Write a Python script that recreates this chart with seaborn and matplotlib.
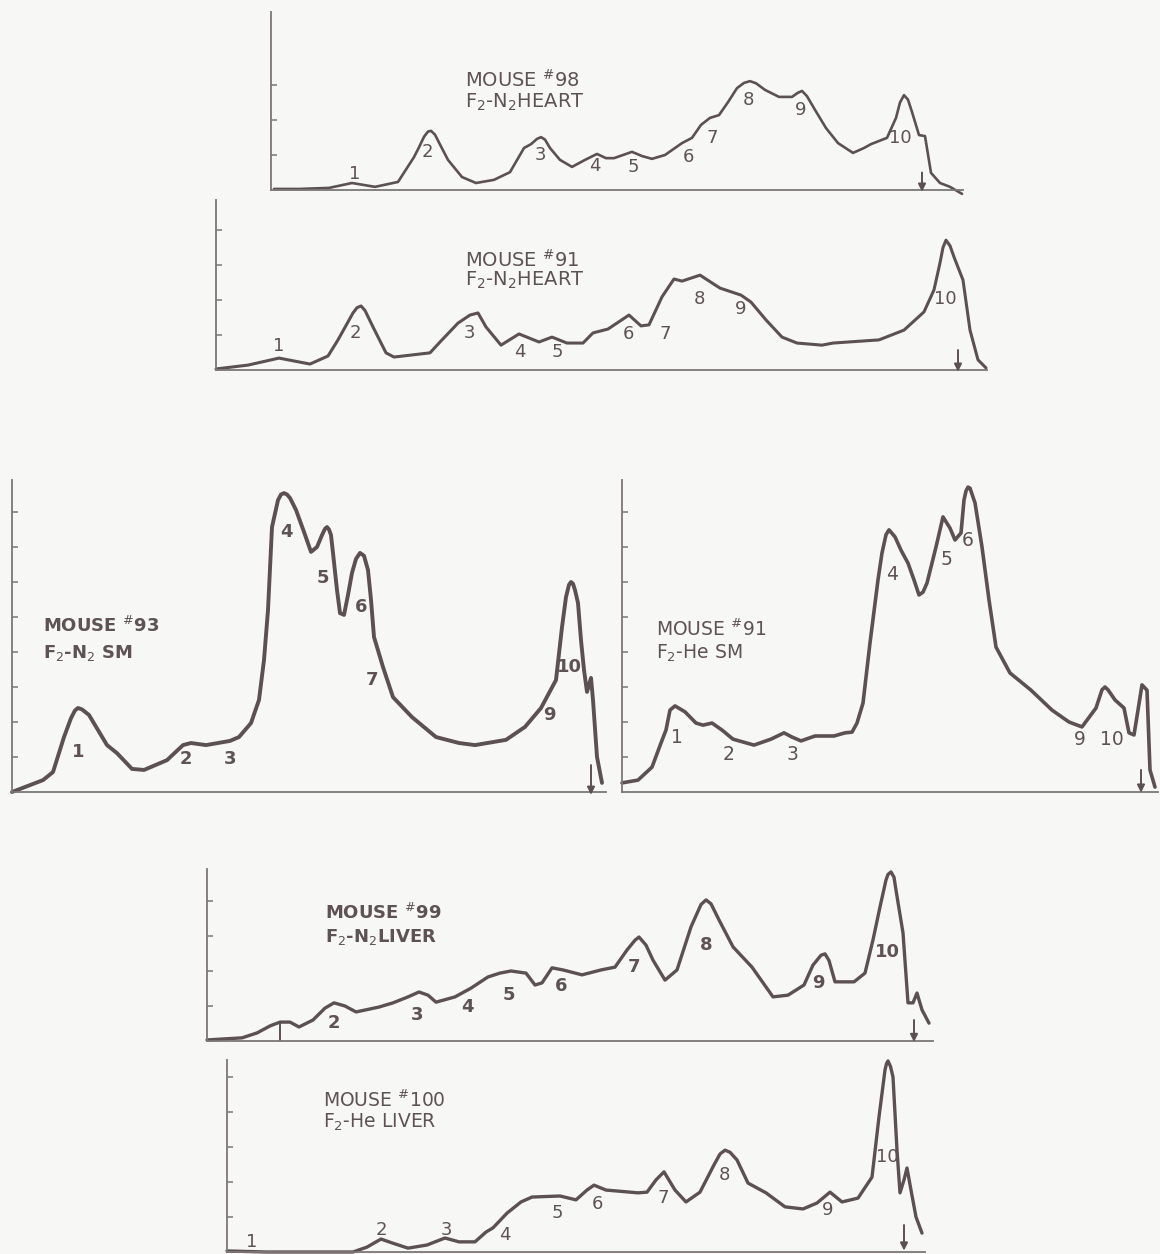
import matplotlib
matplotlib.use("Agg")
import matplotlib.pyplot as plt
import seaborn as sns
import pandas as pd

# ---- densitometer traces: migration distance (x) vs optical density (y) ----
# Mouse #98, F2-N2 heart
m98_x = [0.3, 2.9, 5.8, 8.1, 10.4, 12.7, 14.3, 14.8, 15.3, 15.7, 16.0, 16.4, 16.9, 17.7, 19.1,
         20.5, 22.3, 23.9, 25.3, 26.0, 26.6, 27.0, 27.4, 27.9, 28.9, 30.1, 31.4, 32.6, 33.5,
         34.3, 36.1, 37.1, 38.1, 39.4, 41.1, 42.1, 43.0, 43.9, 44.8, 45.7, 46.6, 47.3, 47.9,
         48.5, 49.4, 50.8, 52.1, 52.7, 53.1, 53.6, 54.4, 55.5, 56.7, 58.2, 59.3, 60.0, 61.6,
         62.5, 62.9, 63.3, 63.7, 64.1, 64.8, 65.4, 66.0, 66.9, 67.9, 69.1]
m98_y = [0.03, 0.03, 0.06, 0.20, 0.09, 0.23, 0.94, 1.22, 1.52, 1.67, 1.69, 1.58, 1.30, 0.86, 0.37,
         0.20, 0.29, 0.51, 1.20, 1.31, 1.46, 1.51, 1.44, 1.20, 0.86, 0.66, 0.86, 1.03, 0.91,
         0.91, 1.09, 0.97, 0.89, 1.00, 1.34, 1.49, 1.86, 2.06, 2.14, 2.51, 2.91, 3.06, 3.11,
         3.05, 2.86, 2.66, 2.66, 2.78, 2.83, 2.68, 2.29, 1.77, 1.34, 1.06, 1.20, 1.31, 1.49,
         2.06, 2.50, 2.71, 2.58, 2.23, 1.57, 1.54, 0.49, 0.20, 0.09, -0.11]

# Mouse #91, F2-N2 heart
m91h_x = [0.0, 3.2, 6.3, 9.4, 11.2, 12.2, 13.7, 14.1, 14.5, 14.9, 15.7, 17.0, 17.8, 21.4, 22.4,
          24.2, 25.4, 26.2, 27.0, 28.5, 30.3, 32.3, 33.6, 35.1, 36.7, 37.7, 39.2, 41.3, 42.5,
          43.3, 44.6, 45.8, 46.6, 48.4, 50.4, 52.5, 53.5, 55.0, 56.6, 58.1, 60.6, 61.7, 66.3,
          68.8, 70.8, 71.8, 72.4, 72.7, 73.0, 73.4, 73.8, 74.7, 75.4, 76.2, 77.0]
m91h_y = [0.03, 0.14, 0.34, 0.17, 0.40, 0.86, 1.63, 1.78, 1.83, 1.70, 1.23, 0.49, 0.37, 0.49, 0.80,
          1.34, 1.57, 1.63, 1.23, 0.71, 1.03, 0.80, 0.94, 0.77, 0.77, 1.06, 1.17, 1.57, 1.26,
          1.29, 2.09, 2.60, 2.54, 2.71, 2.34, 2.14, 1.94, 1.43, 0.94, 0.77, 0.71, 0.77, 0.86,
          1.14, 1.66, 2.29, 3.06, 3.50, 3.71, 3.55, 3.23, 2.57, 1.14, 0.29, 0.06]

# Mouse #93, F2-N2 skeletal muscle
m93_x = [0.0, 3.1, 4.1, 5.2, 5.9, 6.3, 6.6, 7.0, 7.7, 9.5, 10.5, 12.0, 13.2, 15.5, 17.1, 17.9,
         19.4, 21.8, 22.7, 23.9, 24.7, 25.2, 25.6, 26.0, 26.6, 26.9, 27.2, 27.5, 27.8, 28.4,
         29.2, 29.9, 30.5, 31.0, 31.3, 31.5, 31.7, 31.9, 32.1, 32.5, 32.8, 33.2, 33.6, 34.0,
         34.4, 34.8, 35.2, 35.6, 35.9, 36.2, 37.1, 38.1, 40.0, 42.4, 44.7, 46.3, 49.4, 51.3,
         52.9, 54.4, 55.0, 55.4, 55.7, 55.9, 56.1, 56.3, 56.6, 56.9, 57.2, 57.5, 57.9, 58.1,
         58.5, 59.0]
m93_y = [0.00, 0.34, 0.57, 1.57, 2.11, 2.33, 2.40, 2.36, 2.20, 1.34, 1.11, 0.66, 0.63, 0.91, 1.34,
         1.40, 1.34, 1.46, 1.57, 1.97, 2.63, 3.77, 5.20, 7.57, 8.34, 8.50, 8.54, 8.50, 8.40,
         8.06, 7.43, 6.86, 7.00, 7.34, 7.52, 7.57, 7.50, 7.34, 6.83, 5.77, 5.11, 5.06, 5.63,
         6.26, 6.66, 6.83, 6.75, 6.34, 5.49, 4.43, 3.57, 2.71, 2.14, 1.57, 1.40, 1.34, 1.49,
         1.86, 2.40, 3.20, 4.71, 5.57, 5.92, 6.00, 5.95, 5.77, 5.40, 4.34, 3.49, 2.86, 3.26,
         2.63, 1.00, 0.26]

# Mouse #91, F2-He skeletal muscle
m91s_x = [0.0, 1.6, 3.0, 3.9, 4.4, 4.8, 5.3, 6.3, 7.4, 8.1, 9.0, 10.0, 11.1, 13.2, 14.9, 16.2,
          17.0, 17.9, 19.3, 21.2, 22.3, 23.0, 23.5, 24.1, 24.8, 25.6, 26.0, 26.4, 26.7, 27.3,
          27.9, 28.6, 29.2, 29.7, 30.1, 30.5, 31.4, 32.1, 32.8, 33.3, 33.9, 34.2, 34.4, 34.6,
          34.8, 35.3, 36.0, 36.7, 37.4, 38.8, 40.9, 43.0, 44.7, 46.0, 47.4, 48.0, 48.3, 48.6,
          49.3, 50.2, 50.7, 51.2, 51.6, 52.0, 52.5, 52.8, 53.3]
m91s_y = [0.26, 0.34, 0.71, 1.40, 1.77, 2.34, 2.46, 2.29, 1.97, 1.91, 1.97, 1.77, 1.51, 1.34, 1.51,
          1.69, 1.57, 1.46, 1.60, 1.60, 1.69, 1.71, 1.97, 2.54, 4.26, 6.06, 6.83, 7.35, 7.49,
          7.29, 6.91, 6.54, 6.06, 5.63, 5.71, 5.97, 7.00, 7.86, 7.54, 7.20, 7.40, 8.34, 8.60,
          8.71, 8.68, 8.26, 7.00, 5.49, 4.14, 3.40, 2.91, 2.34, 2.00, 1.86, 2.40, 2.92, 3.00,
          2.92, 2.63, 2.40, 1.69, 1.63, 2.34, 3.06, 2.91, 0.63, 0.14]

# Mouse #99, F2-N2 liver
m99_x = [0.0, 3.5, 5.0, 6.3, 7.3, 8.3, 9.2, 10.6, 11.8, 12.7, 13.8, 14.9, 17.2, 18.6, 20.1, 21.2,
         22.1, 22.9, 24.8, 26.4, 28.1, 29.3, 30.4, 31.9, 32.8, 33.5, 34.5, 35.6, 37.5, 39.4,
         40.8, 42.0, 42.8, 43.2, 43.9, 44.6, 45.8, 47.0, 48.4, 49.4, 49.9, 50.4, 51.2, 52.6,
         54.5, 56.6, 58.1, 59.7, 60.6, 61.4, 61.8, 62.2, 62.8, 64.7, 65.8, 66.6, 67.3, 67.9,
         68.1, 68.4, 68.7, 68.9, 69.6, 70.1, 70.6, 71.0, 71.5, 72.2]
m99_y = [0.03, 0.09, 0.23, 0.43, 0.54, 0.54, 0.40, 0.60, 0.94, 1.09, 1.00, 0.83, 0.97, 1.09, 1.26,
         1.40, 1.31, 1.11, 1.26, 1.51, 1.83, 1.94, 2.00, 1.94, 1.60, 1.66, 2.09, 2.03, 1.89,
         2.03, 2.11, 2.60, 2.88, 2.97, 2.74, 2.31, 1.74, 2.03, 3.26, 3.90, 4.03, 3.92, 3.46,
         2.69, 2.11, 1.26, 1.31, 1.60, 2.17, 2.45, 2.49, 2.30, 1.69, 1.69, 1.94, 2.89, 3.83,
         4.60, 4.76, 4.83, 4.68, 4.31, 3.09, 1.09, 1.09, 1.37, 0.89, 0.51]

# Mouse #100, F2-He liver
m100_x = [0.0, 3.9, 12.6, 14.0, 15.4, 16.5, 18.1, 20.0, 21.8, 23.2, 24.8, 25.9, 26.6, 28.0, 29.4,
          30.5, 33.3, 34.9, 36.0, 36.7, 37.9, 41.1, 42.0, 42.9, 43.7, 44.8, 45.9, 47.3, 48.7,
          49.3, 49.8, 50.3, 51.0, 52.1, 53.9, 55.8, 57.6, 59.0, 60.3, 61.5, 63.1, 64.5, 65.2,
          65.8, 65.95, 66.1, 66.35, 66.6, 67.0, 67.3, 67.7, 68.0, 68.4, 68.9, 69.5]
m100_y = [0.03, 0.00, 0.00, 0.14, 0.37, 0.26, 0.11, 0.20, 0.40, 0.29, 0.29, 0.57, 0.69, 1.11, 1.43,
          1.57, 1.60, 1.49, 1.77, 1.91, 1.77, 1.69, 1.71, 2.06, 2.29, 1.77, 1.43, 1.71, 2.49,
          2.80, 2.91, 2.85, 2.63, 1.97, 1.69, 1.29, 1.23, 1.40, 1.71, 1.43, 1.54, 2.14, 3.86,
          5.20, 5.38, 5.46, 5.30, 5.00, 2.91, 1.69, 2.06, 2.40, 1.77, 1.00, 0.54]

# ---- band numbers written along each trace ----
m98_bands = ["1", "2", "3", "4", "5", "6", "7", "8", "9", "10"]
m98_band_x = [8.4, 15.6, 26.9, 32.4, 36.2, 41.7, 44.1, 47.7, 53.0, 62.9]
m98_band_y = [0.46, 1.09, 1.00, 0.69, 0.66, 0.94, 1.49, 2.57, 2.29, 1.49]

m91h_bands = ["1", "2", "3", "4", "5", "6", "7", "8", "9", "10"]
m91h_band_x = [6.3, 13.9, 25.3, 30.4, 34.1, 41.2, 44.9, 48.3, 52.5, 72.9]
m91h_band_y = [0.69, 1.06, 1.06, 0.51, 0.51, 1.03, 1.03, 2.03, 1.74, 2.03]

m93_bands = ["1", "2", "3", "4", "5", "6", "7", "9", "10"]
m93_band_x = [6.6, 17.4, 21.8, 27.4, 31.1, 34.9, 36.0, 53.7, 55.7]
m93_band_y = [1.14, 0.94, 0.94, 7.43, 6.11, 5.29, 3.20, 2.20, 3.57]

m91s_bands = ["1", "2", "3", "4", "5", "6", "9", "10"]
m91s_band_x = [5.5, 10.7, 17.0, 27.0, 32.4, 34.6, 45.8, 49.0]
m91s_band_y = [1.57, 1.06, 1.06, 6.20, 6.63, 7.20, 1.49, 1.49]

m99_bands = ["2", "3", "4", "5", "6", "7", "8", "9", "10"]
m99_band_x = [12.7, 21.0, 26.0, 30.2, 35.4, 42.7, 49.9, 61.1, 68.0]
m99_band_y = [0.51, 0.74, 0.97, 1.31, 1.57, 2.11, 2.74, 1.66, 2.54]

m100_bands = ["1", "2", "3", "4", "5", "6", "7", "8", "9", "10"]
m100_band_x = [2.5, 15.4, 21.9, 27.8, 33.0, 37.0, 43.6, 49.7, 60.1, 66.0]
m100_band_y = [0.29, 0.63, 0.63, 0.49, 1.11, 1.37, 1.54, 2.20, 1.20, 2.71]

# ---- titles, origin arrows and y ticks ----
titles = [
    ("MOUSE $^{\\#}$98", "F$_2$-N$_2$HEART"),
    ("MOUSE $^{\\#}$91", "F$_2$-N$_2$HEART"),
    ("MOUSE $^{\\#}$93", "F$_2$-N$_2$ SM"),
    ("MOUSE $^{\\#}$91", "F$_2$-He SM"),
    ("MOUSE $^{\\#}$99", "F$_2$-N$_2$LIVER"),
    ("MOUSE $^{\\#}$100", "F$_2$-He LIVER"),
]
arrow_x = [65.1, 74.2, 57.9, 51.9, 70.7, 67.7]

INK = "#5c5053"
TEXT = "#5e5255"
AXIS = "#7c7678"
BG = "#f7f7f6"

sns.set_theme(style="white", rc={"figure.facecolor": BG, "axes.facecolor": "none"})
plt.rcParams["font.family"] = ["DejaVu Sans"]
plt.rcParams["mathtext.fontset"] = "dejavusans"

W, H = 1160, 1254
fig = plt.figure(figsize=(W / 100, H / 100), dpi=100)

# panel frames in figure pixels: left, top, right, bottom
panels = [
    dict(box=(271, 12, 963, 190), x=m98_x, y=m98_y, bands=m98_bands, bx=m98_band_x, by=m98_band_y,
         title_pos=(19.4, 3.14, 2.49), nt=3, lw=1.9, bold=False, fs=14, bfs=13, arrow=(0.5, -0.05)),
    dict(box=(216, 200, 987, 370), x=m91h_x, y=m91h_y, bands=m91h_bands, bx=m91h_band_x, by=m91h_band_y,
         title_pos=(24.9, 3.14, 2.57), nt=4, lw=2.2, bold=False, fs=14, bfs=13, arrow=(0.57, -0.05)),
    dict(box=(12, 480, 606, 792), x=m93_x, y=m93_y, bands=m93_bands, bx=m93_band_x, by=m93_band_y,
         title_pos=(3.1, 4.74, 3.97), nt=8, lw=2.8, bold=True, fs=13, bfs=13, arrow=(0.77, -0.08)),
    dict(box=(622, 480, 1158, 792), x=m91s_x, y=m91s_y, bands=m91s_bands, bx=m91s_band_x, by=m91s_band_y,
         title_pos=(3.4, 4.66, 3.97), nt=8, lw=2.6, bold=False, fs=13.5, bfs=13.5, arrow=(0.63, -0.02)),
    dict(box=(207, 869, 933, 1041), x=m99_x, y=m99_y, bands=m99_bands, bx=m99_band_x, by=m99_band_y,
         title_pos=(11.8, 3.66, 2.97), nt=4, lw=2.4, bold=True, fs=13, bfs=13, arrow=(0.6, -0.03)),
    dict(box=(227, 1060, 925, 1252), x=m100_x, y=m100_y, bands=m100_bands, bx=m100_band_x, by=m100_band_y,
         title_pos=(9.6, 4.34, 3.71), nt=5, lw=2.4, bold=False, fs=13.5, bfs=13, arrow=(0.77, 0.04)),
]

for i, p in enumerate(panels):
    l, t, r, b = p["box"]
    ax = fig.add_axes([l / W, (H - b) / H, (r - l) / W, (b - t) / H])
    df = pd.DataFrame({"distance": p["x"], "density": p["y"]})
    sns.lineplot(data=df, x="distance", y="density", sort=False, estimator=None, ax=ax,
                 color=INK, lw=p["lw"], solid_joinstyle="round", solid_capstyle="round",
                 clip_on=False)
    ax.set_xlim(0, (r - l) / 10)
    ax.set_ylim(0, (b - t) / 35)
    ax.set_xlabel("")
    ax.set_ylabel("")
    for side in ("top", "right"):
        ax.spines[side].set_visible(False)
    for side in ("left", "bottom"):
        ax.spines[side].set_color(AXIS)
        ax.spines[side].set_linewidth(1.3)
    ax.set_xticks([])
    ax.set_yticks(range(1, p["nt"] + 1))
    ax.tick_params(axis="y", direction="in", length=4, width=1.1, color=AXIS,
                   labelleft=False, left=True)

    weight = "bold" if p["bold"] else "normal"
    for lab, bx, by in zip(p["bands"], p["bx"], p["by"]):
        ax.text(bx, by, lab, ha="center", va="center", fontsize=p["bfs"],
                color=TEXT, fontweight=weight)
    tx, ty1, ty2 = p["title_pos"]
    line1, line2 = titles[i]
    ax.text(tx, ty1, line1, ha="left", va="center", fontsize=p["fs"], color=TEXT, fontweight=weight)
    ax.text(tx, ty2, line2, ha="left", va="center", fontsize=p["fs"], color=TEXT, fontweight=weight)

    y0, y1 = p["arrow"]
    ax.annotate("", xy=(arrow_x[i], y1), xytext=(arrow_x[i], y0),
                arrowprops=dict(arrowstyle="-|>", color=INK, lw=1.4, mutation_scale=11,
                                shrinkA=0, shrinkB=0), annotation_clip=False)

# small marker line under the first liver band
ax5 = fig.axes[4]
ax5.plot([7.3, 7.3], [0, 0.54], color=INK, lw=1.4)

fig.savefig("out.png", dpi=100, facecolor=BG)
